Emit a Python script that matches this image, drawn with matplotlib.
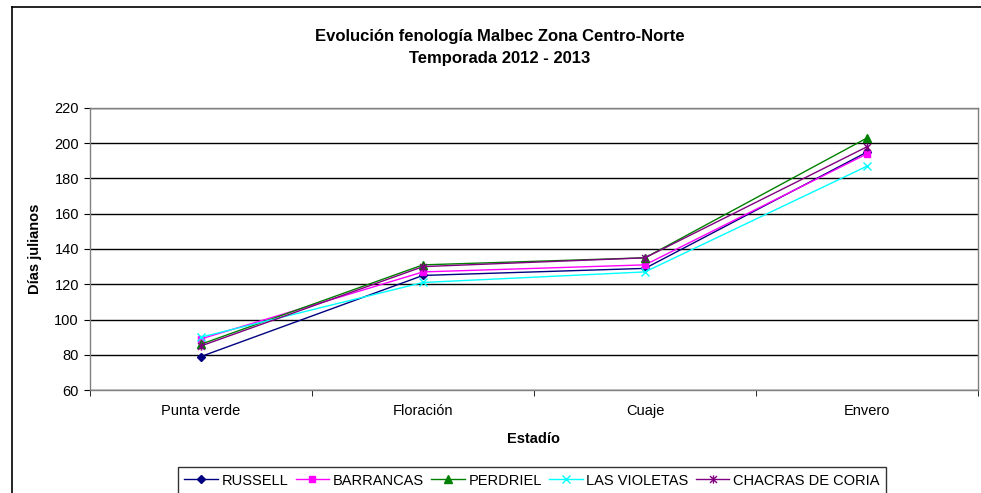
import matplotlib.pyplot as plt
from matplotlib.lines import Line2D
from matplotlib.path import Path

plt.rcParams['font.family'] = ['Liberation Sans', 'DejaVu Sans']

estadios = ['Punta verde', 'Floración', 'Cuaje', 'Envero']
russell = [79, 125, 129, 195]
barrancas = [89, 127, 131, 194]
perdriel = [86, 131, 135, 203]
las_violetas = [90, 121, 127, 187]
chacras = [85, 130, 135, 198]

# Excel style star: an x with a vertical bar through it
star = Path([(-1, -1), (1, 1), (-1, 1), (1, -1), (0, -1.2), (0, 1.2)],
            [Path.MOVETO, Path.LINETO, Path.MOVETO, Path.LINETO,
             Path.MOVETO, Path.LINETO])

series = [
    ('RUSSELL', russell, '#000080', 'D', 4),
    ('BARRANCAS', barrancas, '#FF00FF', 's', 5),
    ('PERDRIEL', perdriel, '#008000', '^', 5.5),
    ('LAS VIOLETAS', las_violetas, '#00FFFF', 'x', 5.5),
    ('CHACRAS DE CORIA', chacras, '#800080', star, 6),
]

W, H = 981, 493
fig = plt.figure(figsize=(W / 100, H / 100), dpi=100)
ax = fig.add_axes([90 / W, 1 - 390 / H, (978 - 90) / W, (390 - 108) / H])

x = range(len(estadios))
for name, vals, col, mk, ms in series:
    ax.plot(x, vals, color=col, marker=mk, markersize=ms, lw=1,
            markeredgewidth=1, label=name)

ax.set_xlim(-0.5, 3.5)
ax.set_ylim(60, 220)
ax.set_yticks(range(60, 221, 20))
ax.set_xticks(x)
ax.set_xticklabels(estadios)
ax.set_xticks([-0.5, 0.5, 1.5, 2.5, 3.5], minor=True)
ax.tick_params(axis='x', which='major', length=0, pad=10, labelsize=10.5)
ax.tick_params(axis='x', which='minor', length=4, direction='out')
ax.tick_params(axis='y', length=4, direction='out', labelsize=10.5, pad=4)
ax.yaxis.grid(True, color='black', lw=1)
ax.set_axisbelow(True)
for s in ax.spines.values():
    s.set_color('#808080')
    s.set_linewidth(1)

ax.set_ylabel('Días julianos', fontsize=10.5, fontweight='bold', labelpad=9)
ax.set_xlabel('Estadío', fontsize=10.5, fontweight='bold', labelpad=10)

fig.text(500 / W, 1 - 37 / H, 'Evolución fenología Malbec Zona Centro-Norte',
         ha='center', va='center', fontsize=12, fontweight='bold')
fig.text(500 / W, 1 - 59 / H, 'Temporada 2012 - 2013',
         ha='center', va='center', fontsize=12, fontweight='bold')

# chart border (left and top edges visible)
fig.add_artist(Line2D([12 / W, 12 / W], [0, 1 - 7 / H], color='black', lw=1.2))
fig.add_artist(Line2D([12 / W, 1], [1 - 7 / H, 1 - 7 / H], color='black', lw=1.2))

leg = fig.legend(loc='upper center', bbox_to_anchor=(532 / W, 1 - 467 / H),
                 ncol=5, fontsize=10.5, frameon=True, fancybox=False,
                 handlelength=2.3, handletextpad=0.25, columnspacing=0.5,
                 borderpad=0.45, borderaxespad=0)
leg.get_frame().set_edgecolor('black')
leg.get_frame().set_linewidth(1)

fig.savefig('out.png', dpi=100)
